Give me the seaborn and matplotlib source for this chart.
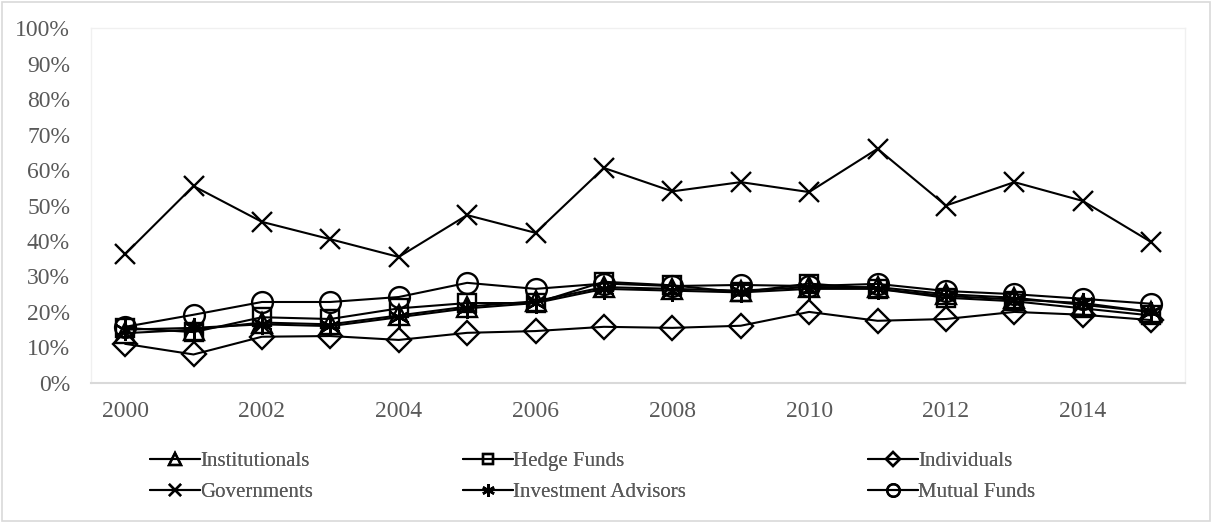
import seaborn as sns
import matplotlib.pyplot as plt
import pandas as pd

# Share by investor type, 2000-2015
years = list(range(2000, 2016))
institutionals = [14.0, 15.0, 17.0, 16.5, 19.0, 21.5, 23.0, 27.0, 26.5, 26.0, 27.0, 27.0, 25.0, 24.0, 22.0, 20.0]
hedge_funds = [15.5, 14.3, 18.5, 18.0, 21.0, 22.5, 22.5, 28.5, 27.5, 25.5, 28.0, 26.5, 24.0, 23.0, 21.0, 19.0]
individuals = [11.0, 8.0, 13.0, 13.2, 12.1, 14.1, 14.6, 15.8, 15.5, 16.1, 20.0, 17.5, 18.0, 20.0, 19.2, 17.7]
governments = [36.3, 55.5, 45.4, 40.5, 35.5, 47.3, 42.3, 60.6, 54.0, 56.6, 53.8, 66.0, 50.0, 56.6, 51.3, 39.7]
investment_advisors = [15.0, 15.5, 16.5, 16.0, 18.5, 21.0, 22.5, 26.5, 26.0, 25.5, 26.5, 26.5, 24.5, 23.5, 22.5, 20.0]
mutual_funds = [15.8, 19.2, 22.8, 22.8, 24.2, 28.2, 26.5, 28.0, 27.3, 27.6, 27.3, 27.9, 25.9, 25.0, 23.7, 22.3]

series = {
    "Institutionals": institutionals,
    "Hedge Funds": hedge_funds,
    "Individuals": individuals,
    "Governments": governments,
    "Investment Advisors": investment_advisors,
    "Mutual Funds": mutual_funds,
}
markers = {
    "Institutionals": "^",
    "Hedge Funds": "s",
    "Individuals": "D",
    "Governments": "x",
    "Investment Advisors": (6, 2, 0),
    "Mutual Funds": "o",
}
msizes = {
    "Institutionals": 14,
    "Hedge Funds": 13,
    "Individuals": 12,
    "Governments": 15,
    "Investment Advisors": 15,
    "Mutual Funds": 15,
}

df = pd.DataFrame([(name, y, v) for name, vals in series.items() for y, v in zip(years, vals)],
                  columns=["type", "year", "share"])

sns.set_style("white")
plt.rcParams["font.family"] = ["Liberation Serif", "DejaVu Serif"]
grey = "#595959"

fig = plt.figure(figsize=(12.12, 5.23), dpi=100)
ax = fig.add_axes([0.075, 0.268, 0.903, 0.678])

# one call per series: seaborn won't mix filled and line-art markers in a style map
for name in series:
    sub = df[df["type"] == name]
    sns.lineplot(data=sub, x="year", y="share", marker=markers[name], color="black",
                 linewidth=1.5, markersize=msizes[name], markerfacecolor="none",
                 markeredgecolor="black", markeredgewidth=1.7, ax=ax, label=name)

ax.set_xlim(1999.5, 2015.5)
ax.set_ylim(0, 100)
ax.set_xticks(range(2000, 2016, 2))
ax.set_yticks(range(0, 101, 10))
ax.set_yticklabels([f"{v}%" for v in range(0, 101, 10)])
ax.tick_params(axis="both", length=0, labelsize=17, labelcolor=grey)
ax.tick_params(axis="x", pad=13)
ax.tick_params(axis="y", pad=15)
ax.set_xlabel("")
ax.set_ylabel("")
for side in ["top", "right", "left"]:
    ax.spines[side].set_color("#f0f0f0")
    ax.spines[side].set_linewidth(1)
ax.spines["bottom"].set_color("#d9d9d9")
ax.spines["bottom"].set_linewidth(1.5)

handles, labels = ax.get_legend_handles_labels()
ax.get_legend().remove()
lookup = dict(zip(labels, handles))

columns = [
    (["Institutionals", "Governments"], 0.117),
    (["Hedge Funds", "Investment Advisors"], 0.375),
    (["Individuals", "Mutual Funds"], 0.7096),
]
for names, xpos in columns:
    leg = fig.legend([lookup[n] for n in names], names, loc="upper left",
                     bbox_to_anchor=(xpos, 0.152), frameon=False, fontsize=15,
                     handlelength=2.4, handletextpad=0.0, markerscale=0.6,
                     labelspacing=0.55, borderaxespad=0)
    for t in leg.get_texts():
        t.set_color(grey)
    fig.add_artist(leg)

fig.patches.append(plt.Rectangle((0.002, 0.003), 0.996, 0.994, transform=fig.transFigure,
                                 fill=False, edgecolor="#d9d9d9", linewidth=1.2))

fig.savefig("out.png", dpi=100)
